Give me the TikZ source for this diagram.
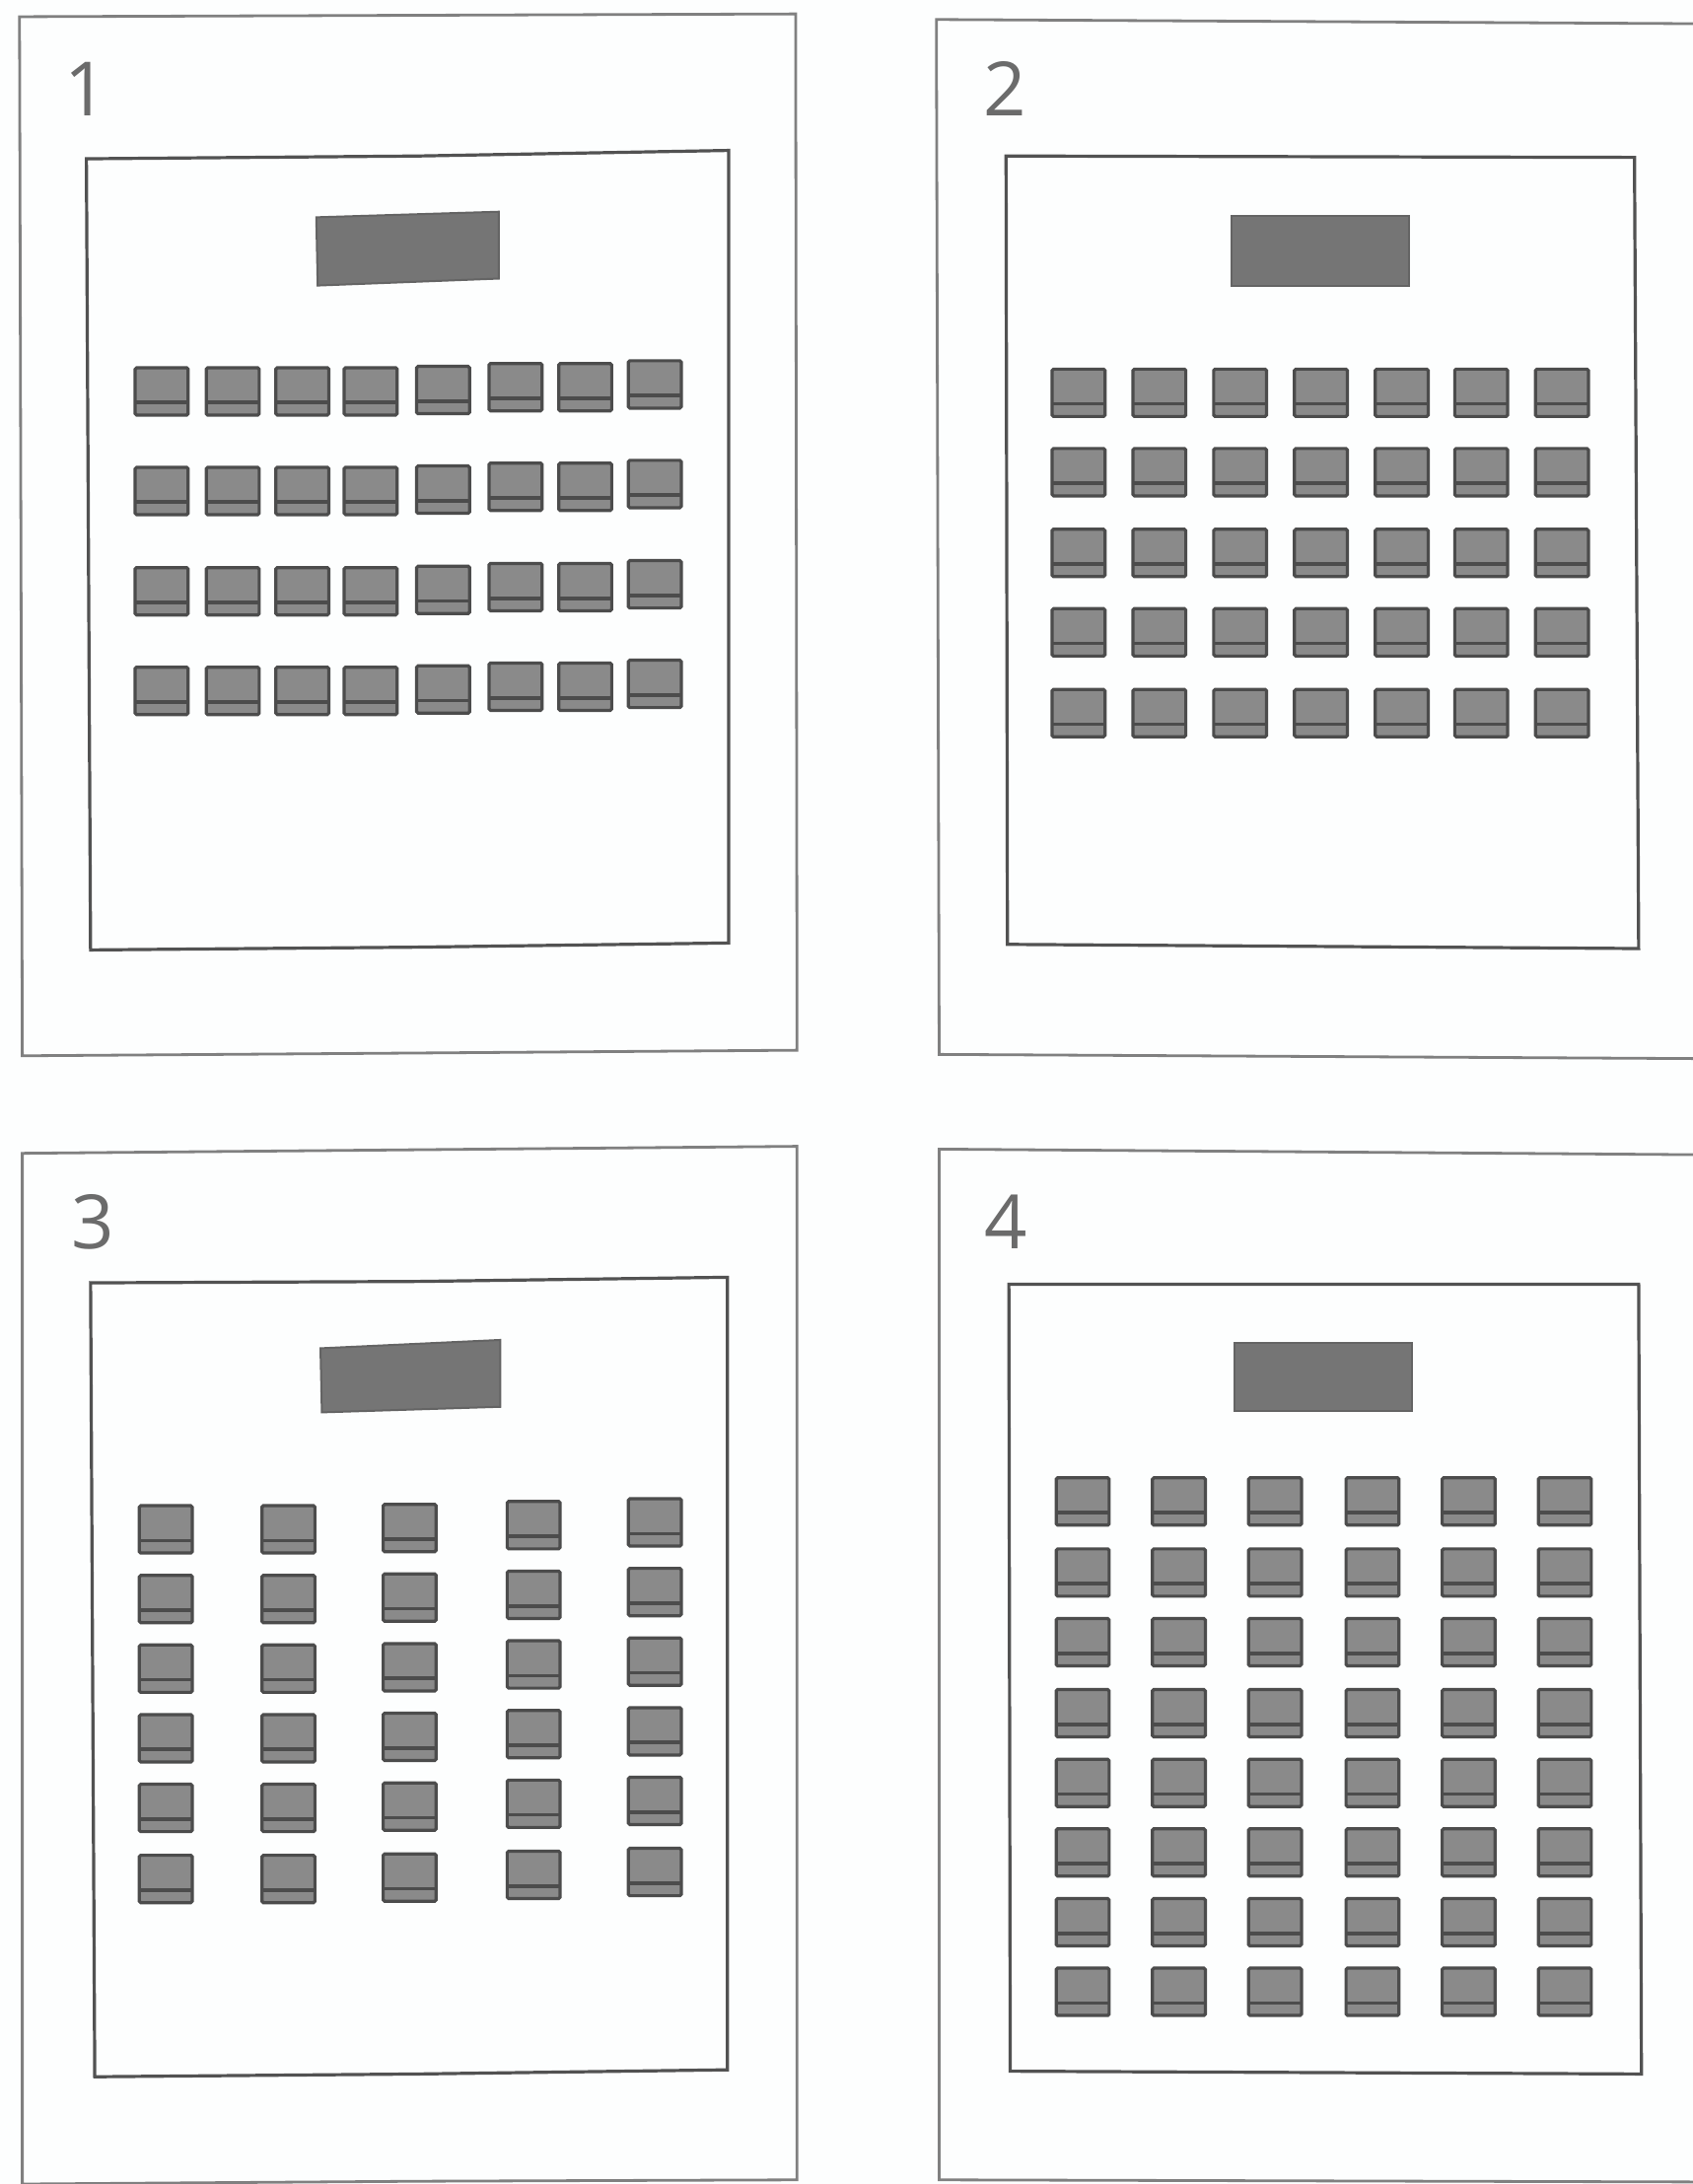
\documentclass[tikz,border=0pt]{standalone}
\usepackage{fontspec}
\setmainfont{Open Sans}
\definecolor{paper}{HTML}{FDFEFE}
\definecolor{frameink}{gray}{0.50}
\definecolor{wallink}{gray}{0.32}
\definecolor{numink}{gray}{0.42}
\definecolor{seatfill}{gray}{0.54}
\definecolor{seatink}{gray}{0.30}
\definecolor{screenfill}{gray}{0.46}
\tikzset{
  outerframe/.style={draw=frameink,line width=2.8pt,line join=miter},
  innerroom/.style={draw=wallink,line width=3.2pt,line join=miter},
  screenbox/.style={fill=screenfill,draw=screenfill!85!black,line width=2pt},
  seatbox/.style={fill=seatfill,draw=seatink,line width=3.2pt,rounded corners=1.5pt},
  seatline/.style={draw=seatink,line width=3.6pt},
  panelnum/.style={text=numink,font=\fontsize{76}{76}\selectfont,inner sep=0pt},
}
% centre x, centre y (shrunk-reference units)
\newcommand{\seatat}[2]{%
  \draw[seatbox] (#1-19,#2-17) rectangle (#1+19,#2+17);
  \draw[seatline] (#1-19,#2+8) -- (#1+19,#2+8);
}
\begin{document}
\begin{tikzpicture}[x=1.41317pt,y=-1.41264pt]
\useasboundingbox (0,0) rectangle (1215,1568);
\fill[paper] (0,0) rectangle (1215,1568);

% ---------- panel 1
\draw[outerframe] (14,12) -- (571,10) -- (572,754) -- (300,756) -- (16,758) -- cycle;
\draw[innerroom] (62,114) -- (300,112) -- (523,108) -- (523,677) -- (300,680) -- (65,682) -- cycle;
\draw[screenbox] (227,156) -- (358,152) -- (358,200) -- (228,205) -- cycle;
\node[panelnum] (n1) at (62,64) {1};
\foreach \x/\dy in {116/0,167/0,217/0,266/0,318/-1,370/-3,420/-3,470/-5}
  \foreach \y in {281,352.5,424.5,496}
    {\seatat{\x}{\y+\dy}}

% ---------- panel 2
\draw[outerframe] (1215,17) -- (672,14) -- (674,757) -- (1215,760);
\draw[innerroom] (722,112) -- (1173,113) -- (1176,681) -- (723,678) -- cycle;
\draw[screenbox] (884,155) rectangle (1011,205);
\node[panelnum] (n2) at (721,64) {2};
\foreach \x in {774,832,890,948,1006,1063,1121}
  \foreach \y in {282,339,397,454,512}
    {\seatat{\x}{\y}}

% ---------- panel 3
\draw[outerframe] (16,1568) -- (16,828) -- (572,823) -- (572,1565) -- (300,1566) -- (16,1568);
\draw[innerroom] (65,921) -- (300,920) -- (522,917) -- (522,1486) -- (300,1489) -- (68,1491) -- cycle;
\draw[screenbox] (230,968) -- (359,962) -- (359,1010) -- (231,1014) -- cycle;
\node[panelnum] (n3) at (67,877) {3};
\foreach \x/\dy in {119/0,207/0,294/-1,383/-3,470/-5}
  \foreach \y in {1098,1148,1198,1248,1298,1349}
    {\seatat{\x}{\y+\dy}}

% ---------- panel 4
\draw[outerframe] (1215,829) -- (674,825) -- (674,1565) -- (1215,1566.5);
\draw[innerroom] (724,922) -- (1176,922) -- (1178,1489) -- (725,1487) -- cycle;
\draw[screenbox] (886,964) rectangle (1013,1013);
\node[panelnum] (n4) at (722,877) {4};
\foreach \x in {777,846,915,985,1054,1123}
  \foreach \y in {1078,1129,1179,1230,1280,1330,1380,1430}
    {\seatat{\x}{\y}}
\end{tikzpicture}
\end{document}
